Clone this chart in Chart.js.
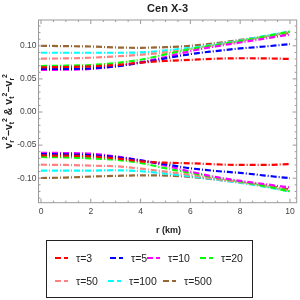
<!DOCTYPE html>
<html>
<head>
<meta charset="utf-8">
<script src="https://cdn.jsdelivr.net/npm/chart.js@4.4.1/dist/chart.umd.min.js"></script>
<style>
  html, body { margin: 0; padding: 0; background: #fff; }
  #wrap { position: relative; width: 300px; height: 300px; }
  #chart { position: absolute; left: 0; top: 0; }
  #legend {
    position: absolute; left: 46px; top: 240px; width: 205px; height: 56px;
    border: 1.5px solid #222; box-sizing: content-box;
    font-family: "Liberation Sans", Arial, sans-serif; font-size: 10.5px; color: #222;
  }
  .item { position: absolute; display: flex; align-items: center; white-space: nowrap; }
  .swatch { display: inline-block; width: 15px; height: 2px; margin-right: 6px; }
</style>
</head>
<body>
<div id="wrap">
  <canvas id="chart" width="300" height="300"></canvas>
  <div id="legend"></div>
</div>
<script>
// r (km) sample points
const rValues = [0, 1, 2, 3, 4, 5, 6, 7, 8, 9, 10];

const tauLabels = ['τ=3', 'τ=5', 'τ=10', 'τ=20', 'τ=50', 'τ=100', 'τ=500'];
const tauColors = ['#ff0000', '#0000ff', '#ff00ff', '#00ff00', '#ff8080', '#00ffff', '#996633'];

// vr^2 - vt^2 (upper branch)
const upperTau3   = [0.0675, 0.068, 0.069, 0.071, 0.0745, 0.0772, 0.0788, 0.0805, 0.0812, 0.0810, 0.0802];
const upperTau5   = [0.065, 0.065, 0.066, 0.069, 0.0745, 0.081, 0.0875, 0.092, 0.096, 0.099, 0.1025];
const upperTau10  = [0.0635, 0.064, 0.065, 0.069, 0.075, 0.083, 0.092, 0.099, 0.105, 0.111, 0.117];
const upperTau20  = [0.0695, 0.070, 0.071, 0.074, 0.079, 0.087, 0.095, 0.101, 0.107, 0.114, 0.1215];
const upperTau50  = [0.0805, 0.081, 0.082, 0.084, 0.0865, 0.090, 0.095, 0.101, 0.107, 0.114, 0.121];
const upperTau100 = [0.0895, 0.0895, 0.0895, 0.0895, 0.090, 0.093, 0.097, 0.102, 0.108, 0.115, 0.122];
const upperTau500 = [0.100, 0.0995, 0.099, 0.0975, 0.097, 0.098, 0.100, 0.104, 0.109, 0.114, 0.1195];

// vt^2 - vr^2 (lower branch)
const lowerTau3   = [-0.0656, -0.066, -0.067, -0.070, -0.0745, -0.0765, -0.0775, -0.079, -0.080, -0.080, -0.0785];
const lowerTau5   = [-0.0636, -0.064, -0.065, -0.068, -0.073, -0.079, -0.085, -0.089, -0.092, -0.096, -0.100];
const lowerTau10  = [-0.0616, -0.062, -0.063, -0.067, -0.073, -0.081, -0.090, -0.098, -0.104, -0.109, -0.114];
const lowerTau20  = [-0.068, -0.0685, -0.070, -0.072, -0.077, -0.085, -0.092, -0.099, -0.105, -0.112, -0.120];
const lowerTau50  = [-0.0796, -0.080, -0.081, -0.082, -0.0855, -0.090, -0.095, -0.101, -0.106, -0.112, -0.119];
const lowerTau100 = [-0.0886, -0.0886, -0.0885, -0.088, -0.0895, -0.093, -0.097, -0.102, -0.107, -0.113, -0.120];
const lowerTau500 = [-0.0997, -0.099, -0.0975, -0.0965, -0.0957, -0.096, -0.098, -0.102, -0.106, -0.111, -0.117];

const upperSeries = [upperTau3, upperTau5, upperTau10, upperTau20, upperTau50, upperTau100, upperTau500];
const lowerSeries = [lowerTau3, lowerTau5, lowerTau10, lowerTau20, lowerTau50, lowerTau100, lowerTau500];

const xTickValues = [0, 2, 4, 6, 8, 10];
const yTickValues = [-0.10, -0.05, 0.00, 0.05, 0.10];

const FONT = '"Liberation Sans", Arial, sans-serif';

// build datasets: two per tau
function makeDataset(values, color) {
  return {
    data: values.map((v, i) => ({ x: rValues[i], y: v })),
    borderColor: color,
    borderWidth: 2.2,
    borderDash: [6, 2, 1, 2],
    pointRadius: 0,
    fill: false,
    cubicInterpolationMode: 'monotone'
  };
}

const datasets = [];
tauLabels.forEach((label, i) => {
  datasets.push(Object.assign(makeDataset(upperSeries[i], tauColors[i]), { label: label }));
  datasets.push(Object.assign(makeDataset(lowerSeries[i], tauColors[i]), { label: label + ' ' }));
});

// frame with inward ticks, title and axis labels
const framePlugin = {
  id: 'frame',
  afterDraw(chart) {
    const ctx = chart.ctx;
    const a = chart.chartArea;
    const xs = chart.scales.x;
    const ys = chart.scales.y;
    ctx.save();
    ctx.strokeStyle = '#9a9a9a';
    ctx.lineWidth = 1;
    ctx.strokeRect(a.left, a.top, a.right - a.left, a.bottom - a.top);

    ctx.beginPath();
    for (let k = 0; k <= 20; k++) {
      const v = k * 0.5;
      const len = (k % 4 === 0) ? 4 : 2;
      const px = xs.getPixelForValue(v);
      ctx.moveTo(px, a.bottom); ctx.lineTo(px, a.bottom - len);
      ctx.moveTo(px, a.top); ctx.lineTo(px, a.top + len);
    }
    for (let k = -13; k <= 13; k++) {
      const v = k * 0.01;
      const len = (k % 5 === 0) ? 4 : 2;
      const py = ys.getPixelForValue(v);
      ctx.moveTo(a.left, py); ctx.lineTo(a.left + len, py);
      ctx.moveTo(a.right, py); ctx.lineTo(a.right - len, py);
    }
    ctx.stroke();

    // title
    const cx = (a.left + a.right) / 2;
    ctx.fillStyle = '#222';
    ctx.textAlign = 'center';
    ctx.textBaseline = 'middle';
    ctx.font = 'bold 11px ' + FONT;
    ctx.fillText('Cen X-3', cx, 9);

    // x axis title
    ctx.font = 'bold 9px ' + FONT;
    ctx.fillText('r (km)', cx + 1, 231);

    // y axis title with sub/superscripts
    const parts = [
      ['v', 0], ['r', 1], ['2', -1], ['−', 0], ['v', 0], ['t', 1], ['2', -1],
      [' & ', 0],
      ['v', 0], ['t', 1], ['2', -1], ['−', 0], ['v', 0], ['r', 1], ['2', -1]
    ];
    const mainFont = 'bold 10.5px ' + FONT;
    const smallFont = 'bold 7px ' + FONT;
    let total = 0;
    parts.forEach(p => {
      ctx.font = p[1] === 0 ? mainFont : smallFont;
      total += ctx.measureText(p[0]).width;
    });
    ctx.translate(8, (a.top + a.bottom) / 2);
    ctx.rotate(-Math.PI / 2);
    ctx.textAlign = 'left';
    ctx.textBaseline = 'alphabetic';
    let pos = -total / 2;
    parts.forEach(p => {
      ctx.font = p[1] === 0 ? mainFont : smallFont;
      const dy = p[1] === 1 ? 2.5 : (p[1] === -1 ? -4.5 : 0);
      ctx.fillText(p[0], pos, 3.5 + dy);
      pos += ctx.measureText(p[0]).width;
    });
    ctx.restore();
  }
};

const chart = new Chart(document.getElementById('chart').getContext('2d'), {
  type: 'line',
  data: { datasets: datasets },
  options: {
    responsive: false,
    animation: false,
    layout: { padding: { top: 20, right: 3.3, bottom: 0, left: 0 } },
    plugins: {
      legend: { display: false },
      title: { display: false },
      tooltip: { enabled: false }
    },
    scales: {
      x: {
        type: 'linear',
        min: -0.1,
        max: 10.27,
        grid: { display: false, drawTicks: false },
        border: { display: false },
        afterFit: function(scale) { scale.height = 97.3; },
        afterBuildTicks: function(scale) {
          scale.ticks = xTickValues.map(v => ({ value: v }));
        },
        ticks: {
          padding: 4,
          maxRotation: 0,
          color: '#444',
          font: { family: FONT, size: 8.5 },
          callback: v => String(v)
        }
      },
      y: {
        type: 'linear',
        min: -0.137,
        max: 0.139,
        grid: { display: false, drawTicks: false },
        border: { display: false },
        afterFit: function(scale) { scale.width = 38.5; },
        afterBuildTicks: function(scale) {
          scale.ticks = yTickValues.map(v => ({ value: v }));
        },
        ticks: {
          padding: 2,
          color: '#444',
          font: { family: FONT, size: 8.5 },
          callback: v => Number(v).toFixed(2)
        }
      }
    }
  },
  plugins: [framePlugin]
});

// legend built from the same arrays
const legendPos = [[8, 17], [63, 17], [100, 17], [153, 17], [8, 40], [61, 40], [116, 40]];
const legendEl = document.getElementById('legend');
tauLabels.forEach((label, i) => {
  const item = document.createElement('div');
  item.className = 'item';
  item.style.left = legendPos[i][0] + 'px';
  item.style.top = (legendPos[i][1] - 7) + 'px';
  item.style.height = '14px';
  const sw = document.createElement('span');
  sw.className = 'swatch';
  const c = tauColors[i];
  sw.style.background = `linear-gradient(to right, ${c} 0 6px, transparent 6px 9px, ${c} 9px 13px, transparent 13px)`;
  const txt = document.createElement('span');
  txt.textContent = label;
  item.appendChild(sw);
  item.appendChild(txt);
  legendEl.appendChild(item);
});
</script>
</body>
</html>
